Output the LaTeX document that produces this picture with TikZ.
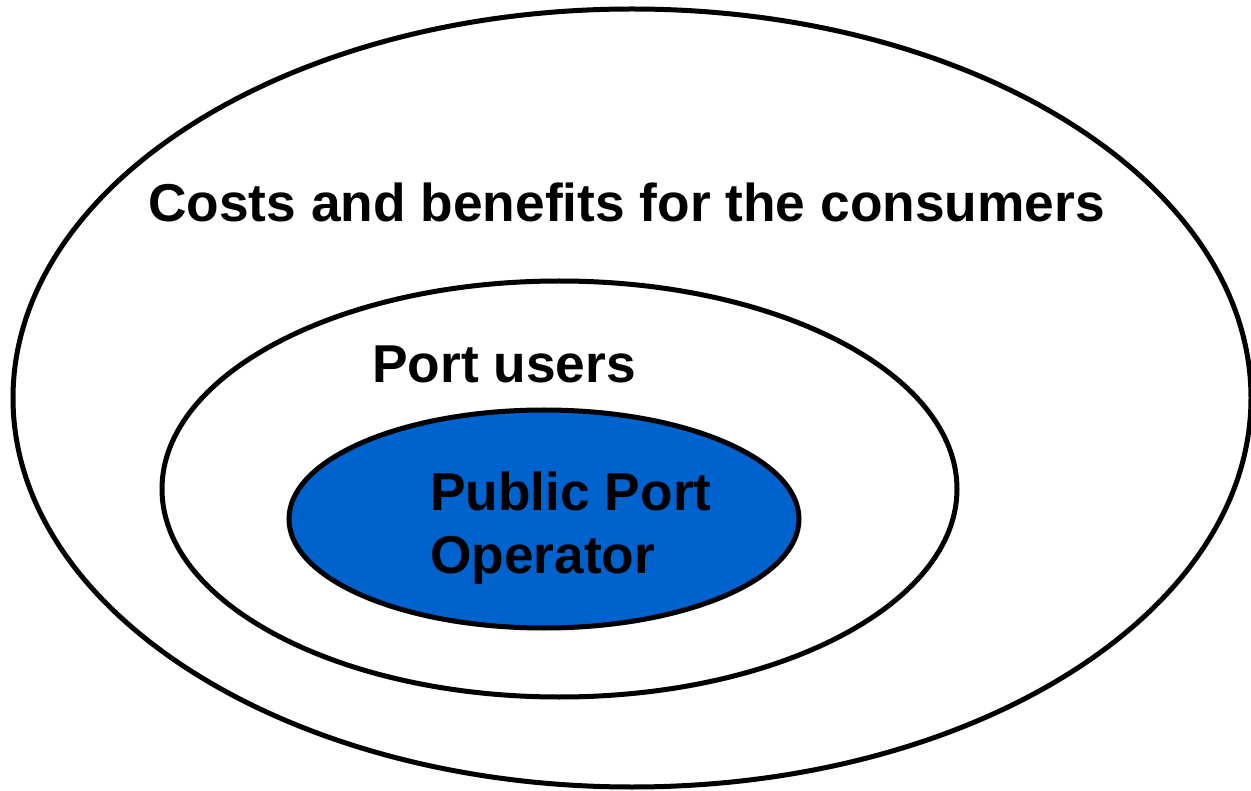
\documentclass[tikz,border=0pt]{standalone}
\usepackage{fontspec}
\setmainfont{Liberation Sans}
\usetikzlibrary{shapes.geometric}
\definecolor{portblue}{RGB}{0,98,204}
\tikzset{
  ring/.style={ellipse,draw=black,line width=5pt,inner sep=0pt},
  label/.style={font=\fontsize{53.3}{63}\selectfont\bfseries,inner sep=0pt,align=left}
}
\begin{document}
\begin{tikzpicture}[x=1pt,y=-1pt]
   \useasboundingbox (0,0) rectangle (1251,791);
   % the three circles of interest
   \node[ring,minimum width=1238pt,minimum height=778pt] (Consumers) at (632,398) {};
   \node[ring,minimum width=795pt,minimum height=416pt] (Users) at (559.5,489) {};
   \node[ring,fill=portblue,minimum width=510pt,minimum height=218pt] (Operator) at (544,519) {};

   \node[label,anchor=base west] (ConsumersText) at (148,222) {Costs and benefits for the consumers};
   \node[label,anchor=base west] (UsersText) at (372,383) {Port users};
   \node[label,anchor=base west] (OperatorText) at (430,573) {Public Port\\Operator};
\end{tikzpicture}
\end{document}
